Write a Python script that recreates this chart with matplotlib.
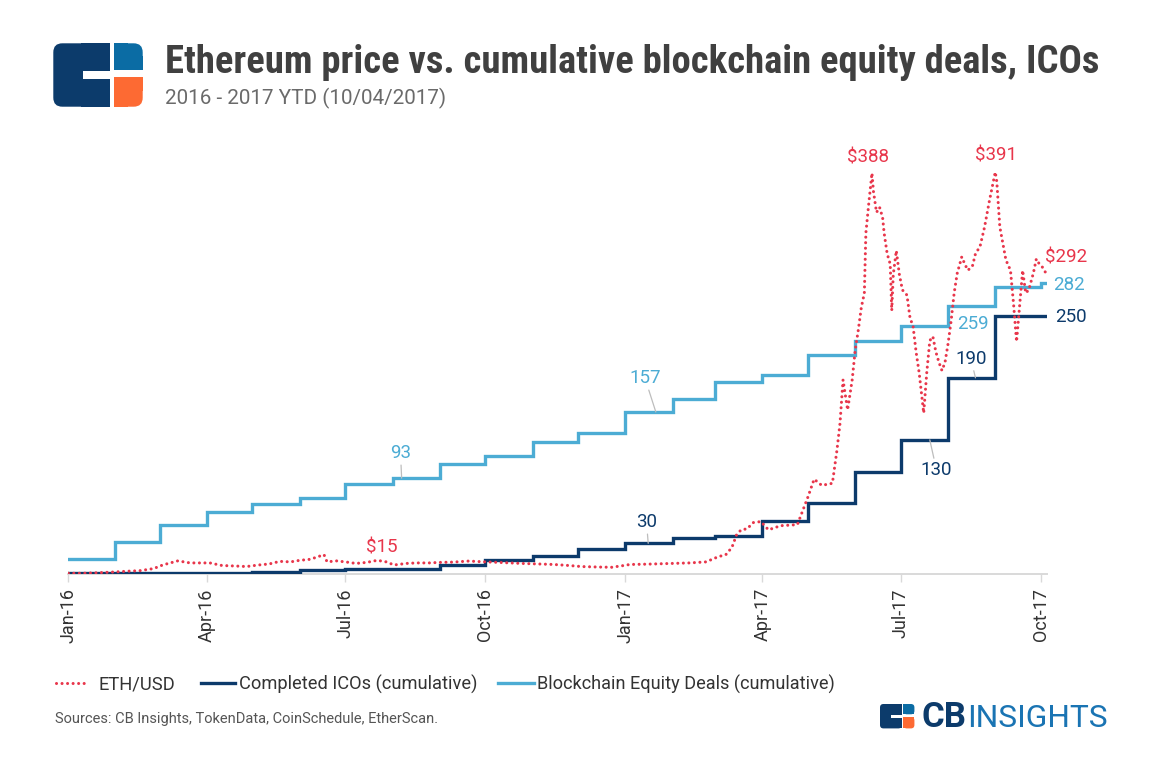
import datetime as dt
import matplotlib
matplotlib.use("Agg")
import matplotlib.pyplot as plt
import matplotlib.dates as mdates
import pandas as pd
from matplotlib import font_manager as fm
from matplotlib.lines import Line2D
from matplotlib.patches import FancyBboxPatch, Rectangle

# ---------------- data ----------------
months = ["2016-01", "2016-02", "2016-03", "2016-04", "2016-05", "2016-06",
          "2016-07", "2016-08", "2016-09", "2016-10", "2016-11", "2016-12",
          "2017-01", "2017-02", "2017-03", "2017-04", "2017-05", "2017-06",
          "2017-07", "2017-08", "2017-09", "2017-10"]
equity_deals = [15, 31, 48, 60, 68, 74, 87, 93, 107, 114, 128, 137,
                157, 170, 186, 193, 212, 226, 240, 259, 278, 282]
completed_icos = [1, 1, 1, 1, 2, 4, 5, 5, 9, 14, 18, 24,
                  30, 35, 37, 52, 69, 99, 130, 190, 250, 250]

eth_dates = [
    "2016-01-01", "2016-01-10", "2016-01-20", "2016-01-31", "2016-02-09", "2016-02-17",
    "2016-02-26", "2016-03-03", "2016-03-08", "2016-03-13", "2016-03-21", "2016-03-28",
    "2016-04-03", "2016-04-11", "2016-04-20", "2016-04-27", "2016-05-05", "2016-05-12",
    "2016-05-19", "2016-05-26", "2016-06-01", "2016-06-08", "2016-06-15", "2016-06-17",
    "2016-06-19", "2016-06-25", "2016-07-01", "2016-07-08", "2016-07-15", "2016-07-22",
    "2016-07-28", "2016-08-02", "2016-08-10", "2016-08-17", "2016-08-25", "2016-09-01",
    "2016-09-10", "2016-09-20", "2016-10-01", "2016-10-10", "2016-10-25", "2016-11-05",
    "2016-11-15", "2016-11-25", "2016-12-03", "2016-12-15", "2016-12-23", "2016-12-31",
    "2017-01-04", "2017-01-15", "2017-02-01", "2017-02-12", "2017-02-23", "2017-03-03",
    "2017-03-08", "2017-03-12", "2017-03-15", "2017-03-18", "2017-03-22", "2017-03-26",
    "2017-03-31", "2017-04-05", "2017-04-13", "2017-04-24", "2017-05-01", "2017-05-05",
    "2017-05-10", "2017-05-17", "2017-05-20", "2017-05-22", "2017-05-24", "2017-05-27",
    "2017-05-30", "2017-06-01", "2017-06-03", "2017-06-05", "2017-06-07", "2017-06-08",
    "2017-06-10", "2017-06-12", "2017-06-13", "2017-06-15", "2017-06-17", "2017-06-19",
    "2017-06-20", "2017-06-22", "2017-06-24", "2017-06-25", "2017-06-26", "2017-06-28",
    "2017-06-30", "2017-07-02", "2017-07-05", "2017-07-07", "2017-07-09", "2017-07-11",
    "2017-07-13", "2017-07-16", "2017-07-18", "2017-07-20", "2017-07-22", "2017-07-24",
    "2017-07-26", "2017-07-28", "2017-07-30", "2017-08-01", "2017-08-03", "2017-08-05",
    "2017-08-07", "2017-08-10", "2017-08-12", "2017-08-14", "2017-08-17", "2017-08-19",
    "2017-08-22", "2017-08-25", "2017-08-28", "2017-09-01", "2017-09-02", "2017-09-04",
    "2017-09-06", "2017-09-08", "2017-09-11", "2017-09-13", "2017-09-15", "2017-09-17",
    "2017-09-19", "2017-09-21", "2017-09-23", "2017-09-26", "2017-09-28", "2017-09-30",
    "2017-10-02", "2017-10-04"]
eth_usd = [
    1, 1, 1.5, 2.2, 3, 3.5,
    5.5, 9, 11, 13, 11, 11,
    11, 8.5, 8, 7.5, 9, 10,
    12.5, 12, 13.5, 14.5, 18, 19,
    12, 13, 12, 10.5, 11.5, 13.5,
    12, 9, 10.5, 11, 11, 11.5,
    11.8, 12.8, 12, 11.5, 10.5, 10,
    9.5, 8.5, 7.5, 7, 6.8, 8.5,
    9.5, 9.8, 10.5, 11, 12, 17,
    19, 26, 38, 43, 44, 50,
    51, 43, 47, 48, 75, 92,
    86, 88, 120, 146, 188, 159,
    188, 217, 236, 258, 272, 330,
    360, 388, 370, 350, 355, 345,
    330, 310, 300, 255, 290, 313,
    290, 275, 270, 248, 240, 215,
    195, 156, 195, 226, 230, 215,
    205, 197, 205, 223, 245, 272,
    291, 307, 300, 294, 298, 310,
    317, 336, 360, 389, 380, 336,
    320, 304, 294, 262, 225, 260,
    294, 272, 275, 291, 305, 300,
    297, 292]

quarter_ticks = ["2016-01-01", "2016-04-01", "2016-07-01", "2016-10-01",
                 "2017-01-01", "2017-04-01", "2017-07-01", "2017-10-01"]

title = "Ethereum price vs. cumulative blockchain equity deals, ICOs"
subtitle = "2016 - 2017 YTD (10/04/2017)"
legend_labels = ["ETH/USD", "Completed ICOs (cumulative)", "Blockchain Equity Deals (cumulative)"]
source = "Sources: CB Insights, TokenData, CoinSchedule, EtherScan."

# ---------------- style ----------------
RED = "#e8364b"
NAVY = "#0c3a6b"
LBLUE = "#4cacd4"
LOGO_NAVY = "#0c3b6b"
LOGO_BLUE = "#0b6ca4"
LOGO_ORANGE = "#fd6a33"

names = {f.name for f in fm.fontManager.ttflist}


def pick(*cands):
    for n in cands:
        if n in names:
            return n
    return "DejaVu Sans"


BASE = pick("Roboto", "Lato", "Open Sans", "Liberation Sans")
COND = pick("Roboto Condensed", "Liberation Sans Narrow", "Roboto")

W, H = 1150, 762
fig = plt.figure(figsize=(W / 100, H / 100), dpi=100)
renderer = fig.canvas.get_renderer()


def fx(x):
    return x / W


def fy(y):
    return 1 - y / H


def fit_text(x, y, s, width_px, **kw):
    t = fig.text(fx(x), fy(y), s, **kw)
    w = t.get_window_extent(renderer).width
    t.set_fontsize(t.get_fontsize() * width_px / w)
    return t


# ---------------- axes ----------------
x0_px, x1_px = 68.3, 1047.0
y_base = 574.3
ppu = 1.034  # pixels per unit
ymax = 410
ax = fig.add_axes([fx(x0_px), fy(y_base), (x1_px - x0_px) / W, ymax * ppu / H])
ax.set_facecolor("none")

mdates_list = pd.to_datetime([m + "-01" for m in months])
end_date = pd.Timestamp("2017-10-05")
step_x = list(mdates_list) + [end_date]

ax.plot(step_x, equity_deals + [equity_deals[-1]], drawstyle="steps-post",
        color=LBLUE, lw=2.4, zorder=2, solid_joinstyle="miter")
ax.plot(step_x, completed_icos + [completed_icos[-1]], drawstyle="steps-post",
        color=NAVY, lw=2.4, zorder=3, solid_joinstyle="miter")
eth_x = pd.to_datetime(eth_dates)
ax.plot(eth_x, eth_usd, color=RED, lw=2.2, linestyle=(0, (0.01, 1.8)),
        dash_capstyle="round", zorder=4)

ax.set_xlim(pd.Timestamp("2016-01-01"), end_date)
ax.set_ylim(0, ymax)
for s in ["top", "right", "left"]:
    ax.spines[s].set_visible(False)
ax.spines["bottom"].set_color("#d9d9d9")
ax.spines["bottom"].set_linewidth(1.4)
ax.yaxis.set_visible(False)
ax.set_xticks(pd.to_datetime(quarter_ticks))
ax.xaxis.set_major_formatter(mdates.DateFormatter("%b-%y"))
ax.tick_params(axis="x", length=6, width=1, color="#d9d9d9", pad=4,
               labelsize=13, labelcolor="#333333", labelrotation=90)
for lbl in ax.get_xticklabels():
    lbl.set_family(BASE)

# ---------------- value labels ----------------
lab_kw = dict(family=BASE, weight="normal", fontsize=13.5, ha="center", va="baseline")
# price labels
fig.text(fx(868), fy(162), "$388", color=RED, **lab_kw)
fig.text(fx(996), fy(161), "$391", color=RED, **lab_kw)
fig.text(fx(1066), fy(263), "$292", color=RED, **lab_kw)
fig.text(fx(381.5), fy(553), "$15", color=RED, **lab_kw)
# no-leader count labels
fig.text(fx(1069), fy(290), str(equity_deals[-1]), color=LBLUE, **lab_kw)
fig.text(fx(1071), fy(322), str(completed_icos[-1]), color=NAVY, **lab_kw)
fig.text(fx(973), fy(329), str(equity_deals[19]), color=LBLUE, **lab_kw)

leader = dict(arrowstyle="-", color="#bdbdbd", lw=0.9, shrinkA=0, shrinkB=0)


def count_label(text, date, value, tx, ty, color):
    ax.annotate(text, xy=(pd.Timestamp(date), value), xycoords="data",
                xytext=(tx, H - ty), textcoords="figure pixels",
                color=color, arrowprops=leader, **lab_kw)


count_label(str(equity_deals[12]), "2017-01-21", equity_deals[12], 645, 383.3, LBLUE)
count_label(str(equity_deals[7]), "2016-08-07", equity_deals[7], 400.5, 458.3, LBLUE)
count_label(str(completed_icos[12]), "2017-01-16", completed_icos[12], 646.5, 527.3, NAVY)
count_label(str(completed_icos[18]), "2017-07-20", completed_icos[18], 936.5, 475, NAVY)
count_label(str(completed_icos[19]), "2017-08-19", completed_icos[19], 971, 364, NAVY)

# ---------------- title ----------------
fit_text(165, 73, title, 933, family=COND, weight="bold", color="#404040",
         va="baseline", ha="left", fontsize=28)
fit_text(165, 104, subtitle, 282, family=BASE, weight="normal", color="#6a6a6a",
         va="baseline", ha="left", fontsize=14)


# ---------------- logos ----------------
def box(x0, y0, x1, y1, color, rounded=0):
    tr = fig.dpi_scale_trans
    if rounded:
        p = FancyBboxPatch((x0 / 100, (H - y1) / 100), (x1 - x0) / 100, (y1 - y0) / 100,
                           boxstyle=f"round,pad=0,rounding_size={rounded / 100}",
                           transform=tr, facecolor=color, edgecolor="none")
    else:
        p = Rectangle((x0 / 100, (H - y1) / 100), (x1 - x0) / 100, (y1 - y0) / 100,
                      transform=tr, facecolor=color, edgecolor="none")
    fig.add_artist(p)


def logo(ox, oy, s):
    def P(a, b):
        return ox + a * s, oy + b * s
    r = 9 * s
    # navy C shape
    box(*P(0, 0), *P(56.7, 63.4), LOGO_NAVY, rounded=r)
    box(*P(28, 0), *P(56.7, 63.4), LOGO_NAVY)
    box(*P(29.4, 27.4), *P(57.2, 35.4), "white")
    # blue square (top-right rounded)
    box(*P(60.7, 0), *P(89.4, 26.7), LOGO_BLUE, rounded=r)
    box(*P(60.7, 0), *P(75, 26.7), LOGO_BLUE)
    box(*P(60.7, 13), *P(89.4, 26.7), LOGO_BLUE)
    # orange square (bottom-right rounded)
    box(*P(60.7, 34), *P(89.4, 63.4), LOGO_ORANGE, rounded=r)
    box(*P(60.7, 34), *P(75, 63.4), LOGO_ORANGE)
    box(*P(60.7, 34), *P(89.4, 48), LOGO_ORANGE)


logo(53.3, 43.3, 1.0)
logo(880, 704, 0.385)
fit_text(921.5, 727, "CB", 45, family=BASE, weight="bold", color=LOGO_NAVY,
         va="baseline", ha="left", fontsize=24)
fit_text(967, 727, "INSIGHTS", 141, family=BASE, weight="normal", color="#1a74b3",
         va="baseline", ha="left", fontsize=24)

# ---------------- legend ----------------
leg_y = 683
fig.add_artist(Line2D([fx(55.7), fx(87)], [fy(leg_y), fy(leg_y)], color=RED, lw=2.2,
                      linestyle=(0, (0.01, 1.8)), dash_capstyle="round"))
fit_text(98.6, 689.3, legend_labels[0], 76.4, family=BASE, color="#333333",
         va="baseline", ha="left", fontsize=13)
fig.add_artist(Line2D([fx(201), fx(234.6)], [fy(leg_y), fy(leg_y)], color=NAVY, lw=2.4))
fit_text(238.7, 689.3, legend_labels[1], 238, family=BASE, color="#333333",
         va="baseline", ha="left", fontsize=13)
fig.add_artist(Line2D([fx(497.6), fx(534.2)], [fy(leg_y), fy(leg_y)], color=LBLUE, lw=2.4))
fit_text(536.9, 689.3, legend_labels[2], 298, family=BASE, color="#333333",
         va="baseline", ha="left", fontsize=13)

fit_text(55, 723, source, 382, family=BASE, color="#555555",
         va="baseline", ha="left", fontsize=10)

fig.savefig("out.png", dpi=100)
